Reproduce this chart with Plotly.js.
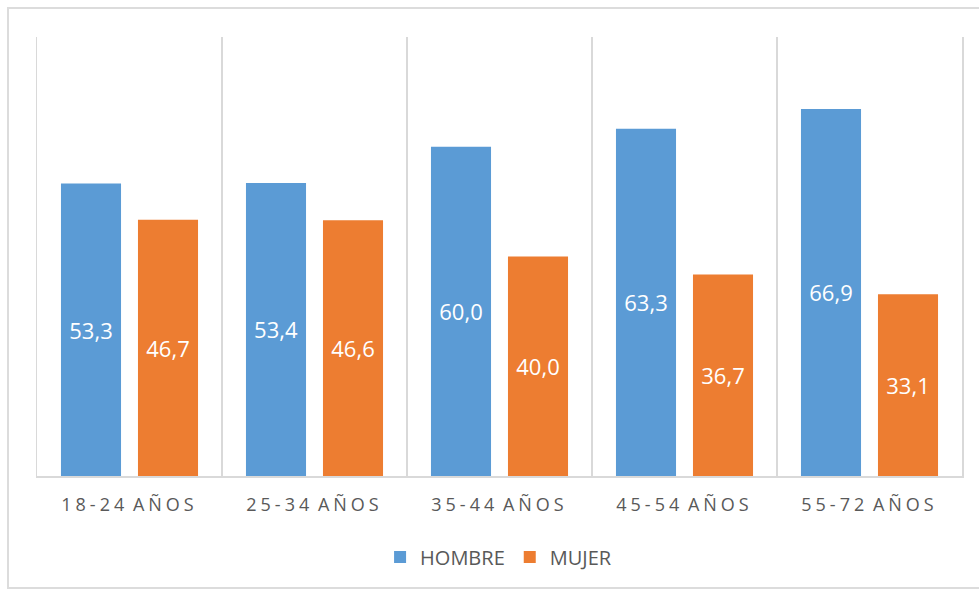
<!DOCTYPE html>
<html>
<head>
<meta charset="utf-8">
<script src="https://cdn.plot.ly/plotly-3.0.1.min.js"></script>
<style>
  html, body { margin: 0; padding: 0; background: #ffffff; }
  #wrap { position: relative; width: 979px; height: 594px; overflow: hidden; }
  #frame {
    position: absolute; left: 7px; top: 7px; width: 990px; height: 582px;
    border: 2px solid #dcdcdc; box-sizing: border-box; pointer-events: none;
  }
  #chart { position: absolute; left: 0; top: 0; width: 979px; height: 594px; }
  #chart .xtick text { letter-spacing: 4px; word-spacing: -4px; }
</style>
</head>
<body>
<div id="wrap">
  <div id="chart"></div>
  <div id="frame"></div>
</div>
<script>
// Age groups and share by sex in each group (%)
const ageGroups = ['18-24 AÑOS', '25-34 AÑOS', '35-44 AÑOS', '45-54 AÑOS', '55-72 AÑOS'];
const hombre = [53.3, 53.4, 60.0, 63.3, 66.9];
const mujer = [46.7, 46.6, 40.0, 36.7, 33.1];

const labelFont = { family: 'Open Sans, sans-serif', size: 22, color: '#ffffff' };

function barTrace(name, values, color) {
  return {
    type: 'bar',
    name: name,
    x: ageGroups,
    y: values,
    marker: { color: color, line: { width: 0 } },
    texttemplate: '%{y:.1f}',
    textposition: 'inside',
    insidetextanchor: 'middle',
    textangle: 0,
    constraintext: 'none',
    textfont: labelFont,
    hoverinfo: 'skip'
  };
}

const data = [
  barTrace('HOMBRE', hombre, '#5b9bd5'),
  barTrace('MUJER', mujer, '#ed7d31')
];

const layout = {
  width: 979,
  height: 594,
  margin: { l: 37, r: 17, t: 37, b: 118 },
  paper_bgcolor: 'rgba(0,0,0,0)',
  plot_bgcolor: '#ffffff',
  separators: ',.',
  barmode: 'group',
  bargap: 0.1676,
  bargroupgap: 0.22,
  showlegend: true,
  legend: {
    orientation: 'h',
    x: 0.499, xanchor: 'center',
    y: -0.1845, yanchor: 'middle',
    font: { family: 'Open Sans, sans-serif', size: 20, color: '#595959' },
    itemwidth: 30,
    traceorder: 'normal'
  },
  xaxis: {
    type: 'category',
    tickson: 'boundaries',
    ticks: '',
    showgrid: true,
    gridcolor: '#d9d9d9',
    gridwidth: 1.5,
    showline: true,
    linecolor: '#d9d9d9',
    linewidth: 1.5,
    tickfont: { family: 'Open Sans, sans-serif', size: 18, color: '#595959' },
    ticklabelstandoff: 12,
    fixedrange: true
  },
  yaxis: {
    range: [0, 80],
    showgrid: false,
    zeroline: false,
    showticklabels: false,
    ticks: '',
    showline: true,
    mirror: true,
    linecolor: '#d9d9d9',
    linewidth: 1.5,
    fixedrange: true
  }
};

Plotly.newPlot('chart', data, layout, { displayModeBar: false, staticPlot: true });
</script>
</body>
</html>
